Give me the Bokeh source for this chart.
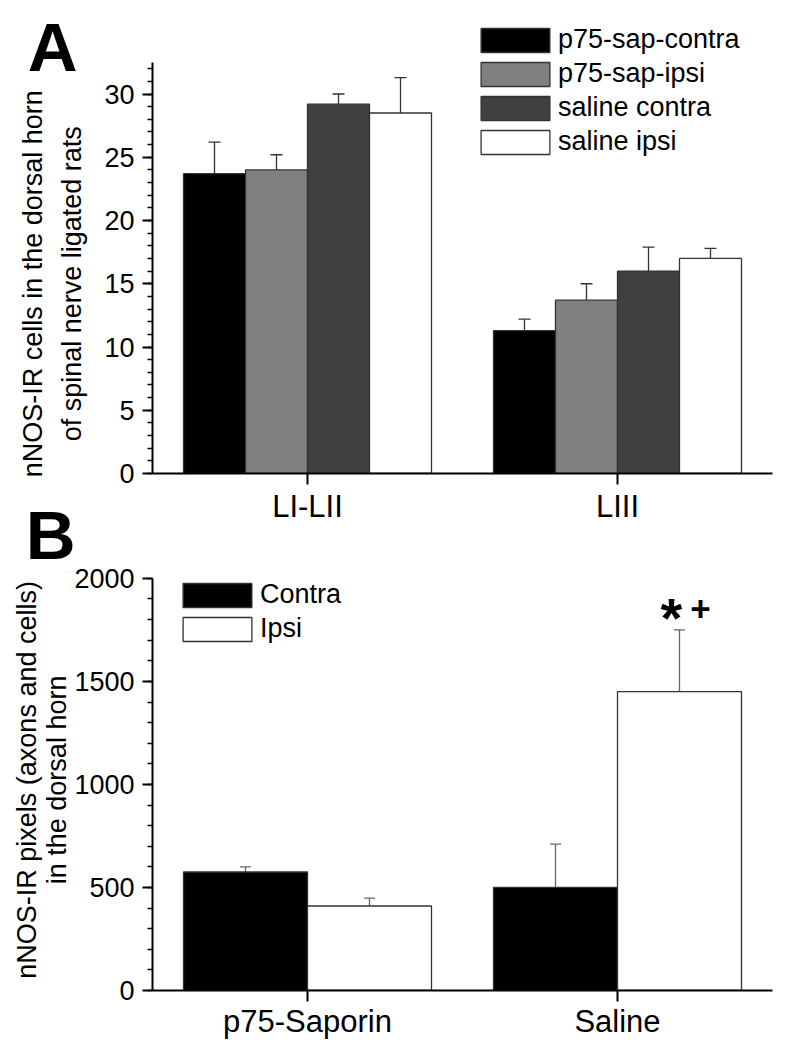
from bokeh.plotting import figure
from bokeh.models import (FactorRange, Range1d, Whisker, TeeHead, Legend, LegendItem,
                          ColumnDataSource, SingleIntervalTicker, FixedTicker, LinearAxis)
from bokeh.transform import dodge
from bokeh.layouts import column
from bokeh.embed import file_html
from bokeh.resources import INLINE
from bokeh.core.properties import value

FONT = "Liberation Sans"

# ---------------- Panel A data ----------------
a_categories = ["LI-LII", "LIII"]
a_series = ["p75-sap-contra", "p75-sap-ipsi", "saline contra", "saline ipsi"]
a_p75_contra = [23.7, 11.3]
a_p75_contra_err = [2.5, 0.9]
a_p75_ipsi = [24.0, 13.7]
a_p75_ipsi_err = [1.2, 1.3]
a_sal_contra = [29.2, 16.0]
a_sal_contra_err = [0.8, 1.9]
a_sal_ipsi = [28.5, 17.0]
a_sal_ipsi_err = [2.8, 0.8]
a_colors = ["#000000", "#808080", "#404040", "#ffffff"]
a_ylabel = "nNOS-IR cells in the dorsal horn\nof spinal nerve ligated rats"
a_axis_max = 32.5

# ---------------- Panel B data ----------------
b_categories = ["p75-Saporin", "Saline"]
b_series = ["Contra", "Ipsi"]
b_contra = [575, 500]
b_contra_err = [25, 210]
b_ipsi = [410, 1450]
b_ipsi_err = [38, 300]
b_colors = ["#000000", "#ffffff"]
b_sig_category = ["Saline"]
b_ylabel = "nNOS-IR pixels (axons and cells)\nin the dorsal horn"
b_axis_max = 2000

LINE = "#333333"


def style(p, y_interval, x_standoff):
    p.outline_line_color = None
    p.xgrid.visible = False
    p.ygrid.visible = False
    p.background_fill_color = None
    p.border_fill_color = None
    for ax in (p.xaxis[0], p.yaxis[0]):
        ax.axis_line_color = "black"
        ax.axis_line_width = 2
        ax.major_tick_line_color = "black"
        ax.major_tick_line_width = 2
        ax.major_tick_in = 0
        ax.major_label_text_font = FONT
        ax.major_label_text_color = "black"
    y = p.yaxis[0]
    y.ticker = SingleIntervalTicker(interval=y_interval, num_minor_ticks=5)
    y.major_tick_out = 10
    y.minor_tick_out = 5
    y.minor_tick_in = 0
    y.minor_tick_line_color = "black"
    y.minor_tick_line_width = 1.5
    y.major_label_text_font_size = "27px"
    y.major_label_standoff = 8
    x = p.xaxis[0]
    x.major_tick_out = 11
    x.major_label_text_font_size = "31px"
    x.major_label_standoff = x_standoff


def text_axis(p, tick, text, size, bold, standoff, vertical=False, line_height=1.2):
    ax = LinearAxis(ticker=FixedTicker(ticks=[tick]),
                    major_label_overrides={tick: text, str(tick): text},
                    axis_line_color=None, major_tick_line_color=None,
                    minor_tick_line_color=None, major_tick_out=0, major_tick_in=0,
                    minor_tick_out=0, minor_tick_in=0,
                    major_label_standoff=standoff,
                    major_label_text_font=FONT, major_label_text_font_size=size,
                    major_label_text_font_style="bold" if bold else "normal",
                    major_label_text_color="black",
                    major_label_text_line_height=line_height)
    if vertical:
        ax.major_label_orientation = "vertical"
    p.add_layout(ax, "left")
    return ax


# ---------------- Panel A ----------------
A_TOP, A_AXIS_TOP, A_BOTTOM = 14, 62, 474
a_y_end = a_axis_max * (A_BOTTOM - A_TOP) / (A_BOTTOM - A_AXIS_TOP)
pA = figure(width=792, height=526, x_range=FactorRange(*a_categories, range_padding=0),
            y_range=Range1d(0, a_y_end), output_backend="svg", toolbar_location=None,
            min_border_left=152, min_border_right=20, min_border_top=A_TOP, min_border_bottom=52)
style(pA, 5, 4)
pA.yaxis[0].bounds = (0, a_axis_max)

a_vals = [a_p75_contra, a_p75_ipsi, a_sal_contra, a_sal_ipsi]
a_errs = [a_p75_contra_err, a_p75_ipsi_err, a_sal_contra_err, a_sal_ipsi_err]
a_items = []
for i, (name, vals, errs, col) in enumerate(zip(a_series, a_vals, a_errs, a_colors)):
    off = -0.3 + 0.2 * i
    src = ColumnDataSource(dict(cat=a_categories, top=vals,
                                upper=[v + e for v, e in zip(vals, errs)]))
    r = pA.vbar(x=dodge("cat", off, range=pA.x_range), top="top", width=0.2, source=src,
                fill_color=col, line_color=LINE, line_width=1.3)
    pA.add_layout(Whisker(base=dodge("cat", off, range=pA.x_range), lower="top", upper="upper",
                          source=src, line_color=LINE, line_width=1.3,
                          upper_head=TeeHead(size=12, line_color=LINE, line_width=1.3),
                          lower_head=None))
    a_items.append(LegendItem(label=name, renderers=[r]))

legA = Legend(items=a_items, location=(320, 316), glyph_width=86, glyph_height=30,
              label_text_font=FONT, label_text_font_size="27px", label_text_color="black",
              label_standoff=0, spacing=3, padding=0, margin=0,
              border_line_color=None, background_fill_alpha=0)
pA.add_layout(legA)

# y-axis title and panel letter as text of extra left axes
text_axis(pA, 15.0, a_ylabel, "27px", False, 14, vertical=True, line_height=1.3)
text_axis(pA, 33.71, "A", "69px", True, -62)

# ---------------- Panel B ----------------
B_CANVAS_TOP, B_TOP, B_AXIS_TOP, B_BOTTOM = 490, 514, 578, 991
b_y_end = b_axis_max * (B_BOTTOM - B_TOP) / (B_BOTTOM - B_AXIS_TOP)
pB = figure(width=792, height=B_BOTTOM + 50 - B_CANVAS_TOP,
            x_range=FactorRange(*b_categories, range_padding=0),
            y_range=Range1d(0, b_y_end), output_backend="svg", toolbar_location=None,
            min_border_left=152, min_border_right=20, min_border_top=B_TOP - B_CANVAS_TOP,
            min_border_bottom=50)
style(pB, 500, 2)
pB.yaxis[0].bounds = (0, b_axis_max)
pB.margin = (B_CANVAS_TOP - 526, 0, 0, 0)

b_vals = [b_contra, b_ipsi]
b_errs = [b_contra_err, b_ipsi_err]
b_items = []
for i, (name, vals, errs, col) in enumerate(zip(b_series, b_vals, b_errs, b_colors)):
    off = -0.2 + 0.4 * i
    src = ColumnDataSource(dict(cat=b_categories, top=vals,
                                upper=[v + e for v, e in zip(vals, errs)]))
    r = pB.vbar(x=dodge("cat", off, range=pB.x_range), top="top", width=0.4, source=src,
                fill_color=col, line_color=LINE, line_width=1.3)
    pB.add_layout(Whisker(base=dodge("cat", off, range=pB.x_range), lower="top", upper="upper",
                          source=src, line_color="#666666", line_width=1.3,
                          upper_head=TeeHead(size=11, line_color="#666666", line_width=1.3),
                          lower_head=None))
    b_items.append(LegendItem(label=name, renderers=[r]))

legB = Legend(items=b_items, location=(22, 346), glyph_width=86, glyph_height=30,
              label_text_font=FONT, label_text_font_size="27px", label_text_color="black",
              label_standoff=0, spacing=3, padding=0, margin=0,
              border_line_color=None, background_fill_alpha=0)
pB.add_layout(legB)

sig_idx = [b_categories.index(c) for c in b_sig_category]
sig_src = ColumnDataSource(dict(cat=b_sig_category,
                                y=[b_ipsi[k] + b_ipsi_err[k] for k in sig_idx]))
pB.text(x=dodge("cat", 0.2, range=pB.x_range), y="y", text=value("*"), source=sig_src,
        text_font=value(FONT), text_font_size="56px", text_font_style="bold", text_color="black",
        text_align="center", text_baseline="middle", x_offset=-8, y_offset=-12)
pB.text(x=dodge("cat", 0.2, range=pB.x_range), y="y", text=value("+"), source=sig_src,
        text_font=value(FONT), text_font_size="35px", text_font_style="bold", text_color="black",
        text_align="center", text_baseline="middle", x_offset=21, y_offset=-21)

text_axis(pB, 1022.0, b_ylabel, "27px", False, -1, vertical=True, line_height=1.02)
text_axis(pB, 2207.0, "B", "69px", True, -67)

layout = column(pA, pB, spacing=0)
open("out.html", "w").write(file_html(layout, INLINE))
